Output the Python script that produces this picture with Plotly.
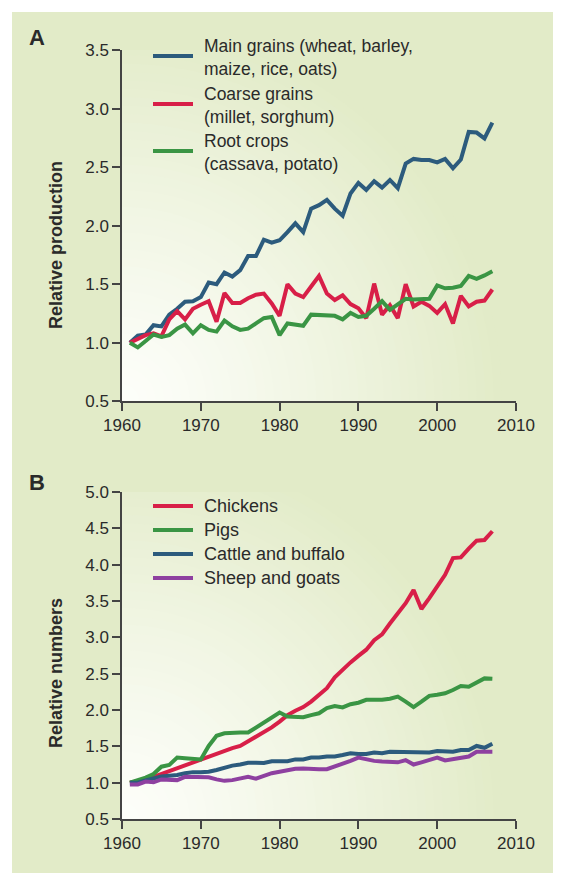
import plotly.graph_objects as go

years = list(range(1961, 2008))

# Panel A: relative production
main_grains = [1.00, 1.06, 1.07, 1.15, 1.14, 1.24, 1.29, 1.35, 1.355, 1.39,
               1.515, 1.50, 1.60, 1.565, 1.62, 1.74, 1.74, 1.88, 1.855, 1.875,
               1.945, 2.02, 1.945, 2.145, 2.175, 2.22, 2.145, 2.085, 2.275, 2.365,
               2.305, 2.38, 2.325, 2.39, 2.32, 2.53, 2.57, 2.56, 2.56, 2.54,
               2.57, 2.49, 2.565, 2.80, 2.795, 2.745, 2.88]
coarse_grains = [1.00, 1.035, 1.065, 1.08, 1.055, 1.20, 1.27, 1.20, 1.29, 1.325,
                 1.355, 1.18, 1.425, 1.34, 1.34, 1.38, 1.41, 1.42, 1.335, 1.23,
                 1.50, 1.42, 1.39, 1.48, 1.57, 1.42, 1.365, 1.405, 1.33, 1.295,
                 1.21, 1.505, 1.24, 1.32, 1.21, 1.50, 1.31, 1.35, 1.315, 1.255,
                 1.33, 1.165, 1.40, 1.31, 1.35, 1.36, 1.455]
root_crops = [1.00, 0.96, 1.015, 1.07, 1.05, 1.065, 1.12, 1.155, 1.08, 1.15,
              1.11, 1.095, 1.19, 1.14, 1.11, 1.12, 1.165, 1.21, 1.22, 1.065,
              1.165, 1.155, 1.145, 1.24, 1.235, 1.235, 1.23, 1.20, 1.255, 1.22,
              1.23, 1.29, 1.355, 1.28, 1.325, 1.375, 1.37, 1.37, 1.375, 1.49,
              1.465, 1.47, 1.485, 1.57, 1.545, 1.575, 1.61]

# Panel B: relative numbers
chickens = [1.00, 1.02, 1.045, 1.08, 1.12, 1.15, 1.19, 1.23, 1.275, 1.31,
            1.36, 1.40, 1.435, 1.475, 1.505, 1.565, 1.625, 1.69, 1.76, 1.84,
            1.93, 1.99, 2.04, 2.115, 2.20, 2.30, 2.45, 2.56, 2.655, 2.745,
            2.83, 2.96, 3.04, 3.19, 3.33, 3.47, 3.65, 3.39, 3.54, 3.69,
            3.86, 4.09, 4.10, 4.22, 4.33, 4.34, 4.46]
pigs = [1.00, 1.035, 1.07, 1.12, 1.22, 1.245, 1.345, 1.335, 1.325, 1.32,
        1.505, 1.645, 1.68, 1.69, 1.69, 1.69, 1.76, 1.84, 1.90, 1.965,
        1.91, 1.90, 1.90, 1.93, 1.955, 2.025, 2.055, 2.035, 2.08, 2.10,
        2.14, 2.14, 2.14, 2.155, 2.185, 2.115, 2.04, 2.115, 2.195, 2.21,
        2.23, 2.275, 2.33, 2.32, 2.375, 2.435, 2.43]
cattle = [1.00, 1.00, 1.03, 1.06, 1.085, 1.095, 1.105, 1.13, 1.145, 1.145,
          1.15, 1.175, 1.21, 1.235, 1.25, 1.275, 1.275, 1.27, 1.295, 1.295,
          1.295, 1.32, 1.32, 1.345, 1.345, 1.36, 1.36, 1.38, 1.405, 1.395,
          1.395, 1.415, 1.405, 1.425, 1.425, 1.425, 1.415, 1.415, 1.415, 1.435,
          1.43, 1.425, 1.45, 1.45, 1.505, 1.48, 1.535]
sheep = [0.975, 0.975, 1.015, 1.005, 1.045, 1.045, 1.035, 1.08, 1.08, 1.08,
         1.075, 1.045, 1.025, 1.035, 1.06, 1.08, 1.055, 1.095, 1.13, 1.15,
         1.175, 1.19, 1.195, 1.185, 1.185, 1.185, 1.22, 1.265, 1.30, 1.345,
         1.32, 1.30, 1.29, 1.285, 1.28, 1.31, 1.25, 1.28, 1.31, 1.345,
         1.305, 1.32, 1.335, 1.36, 1.425, 1.425, 1.425]

names_a = ["Main grains (wheat, barley,<br>maize, rice, oats)",
           "Coarse grains<br>(millet, sorghum)",
           "Root crops<br>(cassava, potato)"]
names_b = ["Chickens", "Pigs", "Cattle and buffalo", "Sheep and goats"]
x_ticks = [1960, 1970, 1980, 1990, 2000, 2010]
y_ticks_a = [0.5, 1.0, 1.5, 2.0, 2.5, 3.0, 3.5]
y_ticks_b = [0.5, 1.0, 1.5, 2.0, 2.5, 3.0, 3.5, 4.0, 4.5, 5.0]

BLUE = "#2c5b7d"
RED = "#d81f48"
GREEN = "#3a9544"
PURPLE = "#8e40a0"
PANEL = "#e2ebc8"
TXT = "#2a2a2a"
AX = "#444444"
FONT = "Liberation Sans, Arial, Helvetica, sans-serif"

# page body has an 8px margin; figure sized so it fills the rest of the window
OFF = 8
W, H = 561 - OFF, 873 - OFF

def fx(px):
    return (px - OFF) / W

def fy(py):
    return (H - (py - OFF)) / H

fig = go.Figure()

for vals, name, col in zip([main_grains, coarse_grains, root_crops], names_a, [BLUE, RED, GREEN]):
    fig.add_trace(go.Scatter(x=years, y=vals, name=name.replace("<br>", " "), mode="lines",
                             line=dict(color=col, width=4), xaxis="x", yaxis="y",
                             showlegend=False))
for vals, name, col in zip([chickens, pigs, cattle, sheep], names_b, [RED, GREEN, BLUE, PURPLE]):
    fig.add_trace(go.Scatter(x=years, y=vals, name=name, mode="lines",
                             line=dict(color=col, width=4), xaxis="x2", yaxis="y2",
                             showlegend=False))

# reference pixel geometry of the plot areas
XL, XR = 122, 516
A_TOP, A_BOT = 50, 401.3
B_TOP, B_BOT = 492, 819

axis_common = dict(showgrid=False, zeroline=False, showline=True, linecolor=AX, linewidth=1.5,
                   ticks="outside", ticklen=8, tickwidth=1.5, tickcolor=AX, automargin=False,
                   tickfont=dict(family=FONT, size=17, color=TXT))

shapes = [dict(type="rect", xref="paper", yref="paper", x0=fx(12), x1=1, y0=0, y1=fy(12),
               fillcolor=PANEL, line=dict(width=0), layer="below")]

def lerp_color(t):
    w = (253, 254, 250)
    g = (226, 235, 200)
    c = [round(w[i] + (g[i] - w[i]) * t) for i in range(3)]
    return "rgb(%d,%d,%d)" % tuple(c)

def add_gradient(xref, yref, ymin, ymax, top, bot):
    px_x = (2010 - 1960) / (XR - XL)
    px_y = (ymax - ymin) / (bot - top)
    R = 380.0
    N = 45
    for i in range(N, 0, -1):
        t = i / N
        r = R * t
        shapes.append(dict(type="circle", xref=xref, yref=yref,
                           x0=1960 - r * px_x, x1=1960 + r * px_x,
                           y0=ymin - r * px_y, y1=ymin + r * px_y,
                           fillcolor=lerp_color(min(1.0, t ** 1.2)), line=dict(width=0),
                           layer="below"))

add_gradient("x", "y", 0.5, 3.5, A_TOP, A_BOT)
add_gradient("x2", "y2", 0.5, 5.0, B_TOP, B_BOT)

annotations = [
    dict(text="<b>A</b>", x=fx(37), y=fy(38), xref="paper", yref="paper", showarrow=False,
         font=dict(family=FONT, size=22, color=TXT), xanchor="center", yanchor="middle"),
    dict(text="<b>B</b>", x=fx(37), y=fy(482), xref="paper", yref="paper", showarrow=False,
         font=dict(family=FONT, size=22, color=TXT), xanchor="center", yanchor="middle"),
    dict(text="<b>Relative production</b>", x=fx(56), y=fy(245), xref="paper", yref="paper",
         showarrow=False, textangle=-90, font=dict(family=FONT, size=18, color=TXT),
         xanchor="center", yanchor="middle"),
    dict(text="<b>Relative numbers</b>", x=fx(56), y=fy(673), xref="paper", yref="paper",
         showarrow=False, textangle=-90, font=dict(family=FONT, size=18, color=TXT),
         xanchor="center", yanchor="middle"),
]

# legend keys (swatch + label)
LEG_X0, LEG_X1, LEG_TX = 153, 193, 203
swatch_a = [56, 104, 151]
for txt, col, sy in zip(names_a, [BLUE, RED, GREEN], swatch_a):
    shapes.append(dict(type="line", xref="paper", yref="paper", x0=fx(LEG_X0), x1=fx(LEG_X1),
                       y0=fy(sy), y1=fy(sy), line=dict(color=col, width=4)))
    annotations.append(dict(text=txt, x=fx(LEG_TX), y=fy(sy + 1.5), xref="paper", yref="paper",
                            showarrow=False, xanchor="left", yanchor="middle", align="left",
                            borderpad=0, font=dict(family=FONT, size=17.5, color=TXT)))
swatch_b = [506, 530, 554, 578]
for txt, col, sy in zip(names_b, [RED, GREEN, BLUE, PURPLE], swatch_b):
    shapes.append(dict(type="line", xref="paper", yref="paper", x0=fx(LEG_X0), x1=fx(LEG_X1),
                       y0=fy(sy), y1=fy(sy), line=dict(color=col, width=4)))
    annotations.append(dict(text=txt, x=fx(LEG_TX), y=fy(sy), xref="paper", yref="paper",
                            showarrow=False, xanchor="left", yanchor="middle", borderpad=0,
                            font=dict(family=FONT, size=18, color=TXT)))

fig.update_layout(
    width=W, height=H,
    margin=dict(l=0, r=0, t=0, b=0, pad=0, autoexpand=False),
    paper_bgcolor="white", plot_bgcolor=PANEL,
    font=dict(family=FONT, color=TXT),
    xaxis=dict(domain=[fx(XL), fx(XR)], range=[1960, 2010], tickvals=x_ticks, anchor="y", **axis_common),
    yaxis=dict(domain=[fy(A_BOT), fy(A_TOP)], range=[0.5, 3.5], tickvals=y_ticks_a,
               tickformat=".1f", anchor="x", **axis_common),
    xaxis2=dict(domain=[fx(XL), fx(XR)], range=[1960, 2010], tickvals=x_ticks, anchor="y2", **axis_common),
    yaxis2=dict(domain=[fy(B_BOT), fy(B_TOP)], range=[0.5, 5.0], tickvals=y_ticks_b,
                tickformat=".1f", anchor="x2", **axis_common),
    shapes=shapes,
    annotations=annotations,
    showlegend=False,
)

fig.write_html("out.html")
